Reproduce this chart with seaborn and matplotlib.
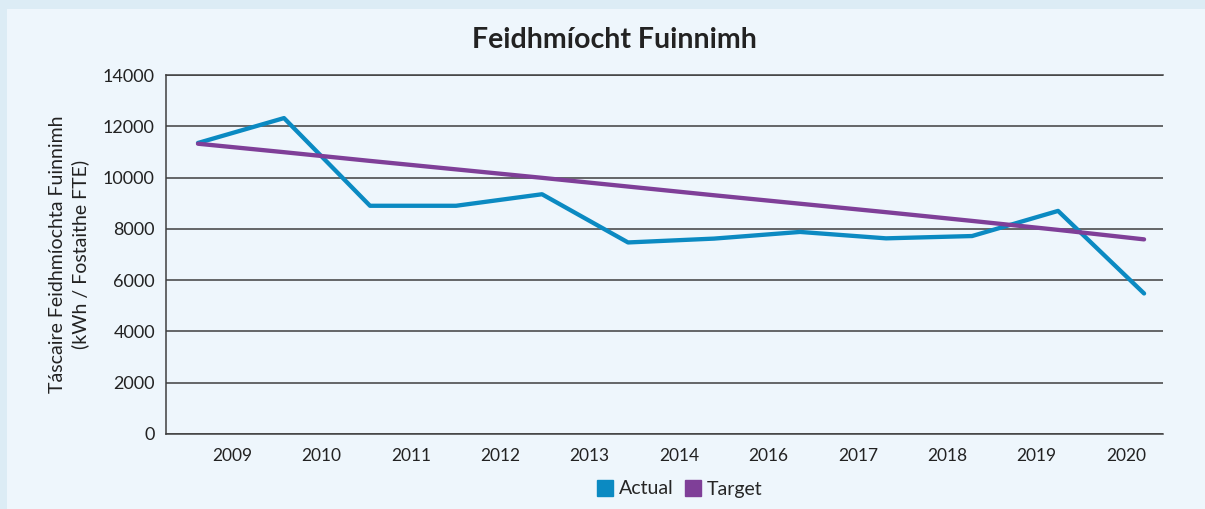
import numpy as np
import pandas as pd
import matplotlib.pyplot as plt
import seaborn as sns
from matplotlib.lines import Line2D
from matplotlib.patches import Rectangle

# =========================
# DATA
# =========================

years = ["2009", "2010", "2011", "2012", "2013", "2014",
         "2016", "2017", "2018", "2019", "2020"]

# 12 points on the line, 11 labels on the axis (as in the original chart)
point_idx = list(range(12))
actual = [11350, 12320, 8900, 8900, 9350, 7470,
          7620, 7880, 7630, 7720, 8700, 5480]
target = [11320, 10990, 10650, 10320, 9990, 9650,
          9310, 8980, 8650, 8310, 7960, 7590]

series_names = ["Actual", "Target"]
colors = ["#0b8ac2", "#7f3f98"]

title = "Feidhmíocht Fuinnimh"
ylabel = "Táscaire Feidhmíochta Fuinnimh\n(kWh / Fostaithe FTE)"

df = pd.DataFrame({
    "idx": point_idx * 2,
    "value": actual + target,
    "series": ["Actual"] * 12 + ["Target"] * 12,
})

# =========================
# STYLE
# =========================

sns.set_style("white")
plt.rcParams["font.family"] = ["Lato", "DejaVu Sans"]

outer_bg = "#dcecf5"
inner_bg = "#eef6fc"
grid_col = "#3f3f3f"
text_col = "#222222"

fig = plt.figure(figsize=(12.05, 5.09), dpi=100, facecolor=outer_bg)
fig.patches.append(Rectangle((7 / 1205, 0), 1, 1 - 9 / 509,
                             transform=fig.transFigure,
                             facecolor=inner_bg, edgecolor="none", zorder=-10))

ax = fig.add_axes([166 / 1205, 1 - 434 / 509, 997 / 1205, 359 / 509])
ax.set_facecolor(inner_bg)

# =========================
# LINES
# =========================

sns.lineplot(data=df, x="idx", y="value", hue="series",
             palette=dict(zip(series_names, colors)),
             linewidth=3.1, legend=False, ax=ax, zorder=3)

ax.set_xlim(-0.372, 11.22)
ax.set_ylim(0, 14000)
ax.set_yticks(np.arange(0, 14001, 2000))
ax.set_yticklabels([str(v) for v in range(0, 14001, 2000)],
                   fontsize=13, color=text_col)

ax.set_xticks(np.linspace(0.395, 10.79, len(years)))
ax.set_xticklabels(years, fontsize=12.5, color=text_col)
ax.tick_params(axis="both", length=0, pad=8)
ax.tick_params(axis="x", pad=10)

ax.yaxis.grid(True, color=grid_col, linewidth=1.1)
ax.xaxis.grid(False)
ax.set_axisbelow(True)

for side in ["right"]:
    ax.spines[side].set_visible(False)
for side in ["left", "bottom", "top"]:
    ax.spines[side].set_color(grid_col)
    ax.spines[side].set_linewidth(1.1)

ax.set_xlabel("")
ax.set_ylabel(ylabel, fontsize=14, color=text_col, labelpad=10,
              linespacing=1.35)

# =========================
# TITLE AND LEGEND
# =========================

fig.text(614 / 1205, 1 - 40 / 509, title, ha="center", va="center",
         fontsize=20.5, fontweight="bold", color=text_col)

handles = [Line2D([], [], marker="s", linestyle="none", markersize=11,
                  markerfacecolor=c, markeredgecolor=c) for c in colors]
fig.legend(handles, series_names, loc="center",
           bbox_to_anchor=(680 / 1205, 1 - 489 / 509), ncol=2,
           frameon=False, fontsize=14, handlelength=0.8,
           handletextpad=0.3, columnspacing=0.6)

plt.savefig("out.png", dpi=100, facecolor=outer_bg)
